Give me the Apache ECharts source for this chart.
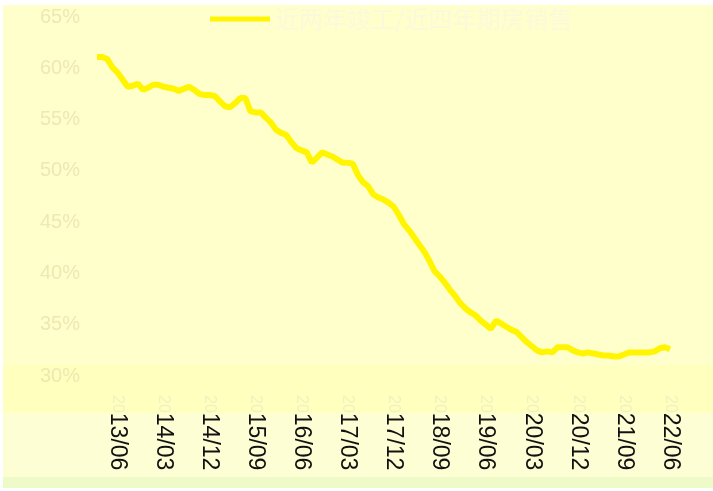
<!DOCTYPE html>
<html>
<head>
<meta charset="utf-8">
<script src="https://cdn.jsdelivr.net/npm/echarts@6/dist/echarts.min.js"></script>
<style>
  html, body { margin: 0; padding: 0; background: #ffffff; }
  #chart { width: 713px; height: 491px; }
</style>
</head>
<body>
<div id="chart"></div>
<script>
// months 2013/02 .. 2022/06
const months = [];
for (let y = 2013; y <= 2022; y++) {
	for (let m = 1; m <= 12; m++) {
		if (y === 2013 && m < 2) continue;
		if (y === 2022 && m > 6) break;
		months.push(y + "/" + (m < 10 ? "0" + m : "" + m));
	}
}

const seriesName = "近两年竣工/近四年期房销售";

// ratio, %
const ratio = [
	61.1, 61.1, 60.9, 60.1, 59.6, 58.9, 58.2, 58.3, 58.5, 57.9,
	58.1, 58.4, 58.4, 58.2, 58.1, 58.0, 57.8, 58.0, 58.2, 57.9,
	57.5, 57.4, 57.4, 57.3, 56.8, 56.3, 56.2, 56.6, 57.1, 57.1,
	55.8, 55.7, 55.7, 55.2, 54.7, 54.0, 53.7, 53.5, 52.8, 52.2,
	52.0, 51.8, 50.8, 51.3, 51.8, 51.6, 51.4, 51.1, 50.8, 50.8,
	50.7, 49.6, 48.9, 48.5, 47.7, 47.4, 47.2, 46.9, 46.5, 45.7,
	44.8, 44.2, 43.5, 42.8, 42.1, 41.2, 40.2, 39.7, 39.1, 38.4,
	37.8, 37.1, 36.6, 36.2, 35.9, 35.4, 35.0, 34.6, 35.4, 35.1,
	34.8, 34.5, 34.3, 33.8, 33.3, 32.9, 32.5, 32.3, 32.4, 32.3,
	32.8, 32.8, 32.8, 32.5, 32.3, 32.2, 32.3, 32.2, 32.1, 32.0,
	32.0, 31.9, 31.9, 32.1, 32.3, 32.3, 32.3, 32.3, 32.3, 32.4,
	32.7, 32.8, 32.6,
];

const yMin = 30;
const yMax = 65;
const yStep = 5;

const chart = echarts.init(document.getElementById("chart"));

chart.setOption({
	backgroundColor: "#ffffff",
	animation: false,
	graphic: [
		{ type: "rect", z: -10, shape: { x: 3, y: 5, width: 710, height: 360 }, style: { fill: "#ffffcc" } },
		{ type: "rect", z: -10, shape: { x: 3, y: 365, width: 710, height: 48 }, style: { fill: "#ffffbe" } },
		{ type: "rect", z: -10, shape: { x: 3, y: 413, width: 710, height: 64 }, style: { fill: "#fdfed4" } },
		{ type: "rect", z: -10, shape: { x: 3, y: 477, width: 710, height: 11 }, style: { fill: "#eefbc9" } },
	],
	legend: {
		top: 2,
		left: 205,
		itemWidth: 60,
		itemHeight: 5,
		itemGap: 6,
		icon: "rect",
		textStyle: {
			fontSize: 24,
			color: "#fbf8dc",
			fontFamily: "Noto Sans CJK SC",
		},
		data: [seriesName],
	},
	grid: {
		left: 97,
		right: 43,
		top: 17,
		bottom: 115,
	},
	xAxis: {
		type: "category",
		data: months,
		boundaryGap: false,
		axisLine: { show: false },
		axisTick: { show: false },
		axisLabel: {
			rotate: -90,
			margin: 19,
			interval: (idx) => idx >= 4 && (idx - 4) % 9 === 0,
			formatter: (v) => "{p|" + v.slice(0, 2) + "}{b|" + v.slice(2) + "}",
			rich: {
				p: { color: "#f3f0c0", fontSize: 16, fontFamily: "Liberation Sans" },
				b: { color: "#111111", fontSize: 23, fontFamily: "Liberation Sans" },
			},
		},
	},
	yAxis: {
		type: "value",
		min: yMin,
		max: yMax,
		interval: yStep,
		axisLine: { show: false },
		axisTick: { show: false },
		splitLine: { show: false },
		axisLabel: {
			margin: 17,
			formatter: "{value}%",
			color: "#eee8b2",
			fontSize: 20,
			fontFamily: "Liberation Sans",
		},
	},
	series: [
		{
			name: seriesName,
			type: "line",
			data: ratio,
			showSymbol: false,
			symbol: "none",
			lineStyle: { color: "#fff500", width: 6 },
			itemStyle: { color: "#fff500" },
		},
	],
});
</script>
</body>
</html>
